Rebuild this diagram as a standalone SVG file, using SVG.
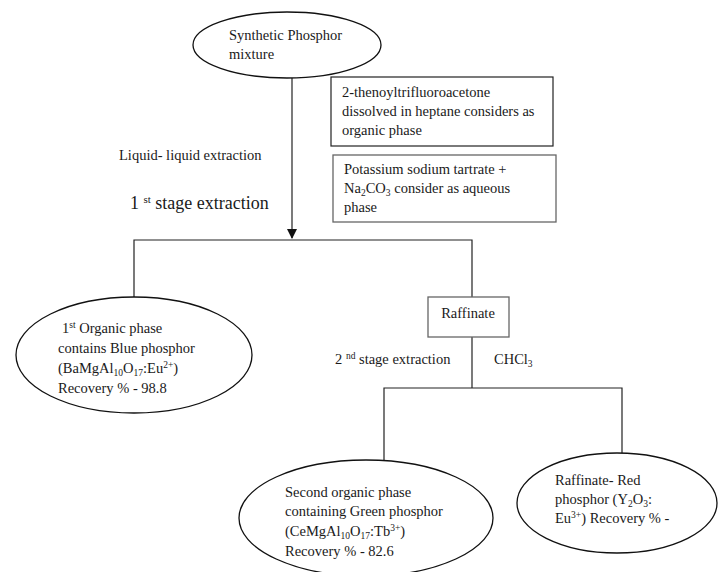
<svg xmlns="http://www.w3.org/2000/svg" width="718" height="572" viewBox="0 0 718 572">
<defs>
<style>
text{font-family:"Liberation Serif","Times New Roman",serif;font-size:14.5px;fill:#1a1a1a}
.node{fill:#fff;stroke:#111;stroke-width:1.3}
.box{fill:#fff;stroke:#222;stroke-width:1.2}
.gbox{fill:#fff;stroke:#666;stroke-width:1.3}
.ln{fill:none;stroke:#222;stroke-width:1.2}
.sm{font-size:9.5px}
.big{font-size:18px}
</style>
<marker id="arr" markerWidth="10" markerHeight="10" refX="9" refY="5" orient="auto" markerUnits="userSpaceOnUse">
<path d="M0,0 L10,5 L0,10 Z" fill="#111"/>
</marker>
</defs>
<rect width="718" height="572" fill="#fff"/>
<g id="connectors">
<line class="ln" x1="292" y1="78" x2="292" y2="238" marker-end="url(#arr)"/>
<polyline class="ln" points="134,297 134,240 472,240 472,297"/>
<line class="ln" x1="472" y1="337" x2="472" y2="388"/>
<polyline class="ln" points="384,460 384,388 622,388 622,453"/>
</g>
<g id="labels">
<text x="119" y="160">Liquid- liquid extraction</text>
<text x="130" y="209" class="big">1 <tspan font-size="11" dy="-6">st</tspan><tspan dy="6"> stage extraction</tspan></text>
<text x="335" y="364">2 <tspan class="sm" dy="-5">nd</tspan><tspan dy="5"> stage extraction</tspan></text>
<text x="494" y="364">CHCl<tspan class="sm" dy="3">3</tspan></text>
</g>
<g id="synthetic">
<ellipse class="node" cx="287" cy="45" rx="94" ry="33"/>
<text x="229" y="40">Synthetic Phosphor</text>
<text x="229" y="59">mixture</text>
</g>
<g id="organic-phase-box">
<rect class="box" x="331" y="77" width="222" height="69"/>
<text x="342" y="97">2-thenoyltrifluoroacetone</text>
<text x="342" y="116">dissolved in heptane considers as</text>
<text x="342" y="135">organic phase</text>
</g>
<g id="aqueous-phase-box">
<rect class="gbox" x="333" y="155" width="223" height="67"/>
<text x="344" y="174">Potassium sodium tartrate +</text>
<text x="344" y="193">Na<tspan class="sm" dy="3">2</tspan><tspan dy="-3">CO</tspan><tspan class="sm" dy="3">3</tspan><tspan dy="-3">  consider as aqueous</tspan></text>
<text x="344" y="212">phase</text>
</g>
<g id="blue">
<ellipse class="node" cx="134" cy="355" rx="118" ry="58"/>
<text x="62" y="333">1<tspan class="sm" dy="-5">st</tspan><tspan dy="5"> Organic phase</tspan></text>
<text x="58" y="353">contains Blue phosphor</text>
<text x="58" y="373">(BaMgAl<tspan class="sm" dy="3">10</tspan><tspan dy="-3">O</tspan><tspan class="sm" dy="3">17</tspan><tspan dy="-3">:Eu</tspan><tspan class="sm" dy="-5">2+</tspan><tspan dy="5">)</tspan></text>
<text x="58" y="393">Recovery % - 98.8</text>
</g>
<g id="raffinate">
<rect class="gbox" x="428" y="297" width="81" height="40"/>
<text x="468" y="318" text-anchor="middle">Raffinate</text>
</g>
<g id="green">
<ellipse class="node" cx="366" cy="518" rx="127" ry="58"/>
<text x="285" y="497">Second organic phase</text>
<text x="285" y="516">containing Green phosphor</text>
<text x="285" y="536">(CeMgAl<tspan class="sm" dy="3">10</tspan><tspan dy="-3">O</tspan><tspan class="sm" dy="3">17</tspan><tspan dy="-3">:Tb</tspan><tspan class="sm" dy="-5">3+</tspan><tspan dy="5">)</tspan></text>
<text x="285" y="556">Recovery % - 82.6</text>
</g>
<g id="red">
<ellipse class="node" cx="617" cy="503" rx="100" ry="50"/>
<text x="555" y="485">Raffinate- Red</text>
<text x="555" y="504">phosphor (Y<tspan class="sm" dy="3">2</tspan><tspan dy="-3">O</tspan><tspan class="sm" dy="3">3</tspan><tspan dy="-3">:</tspan></text>
<text x="555" y="523">Eu<tspan class="sm" dy="-5">3+</tspan><tspan dy="5">) Recovery % -</tspan></text>
</g>
</svg>
